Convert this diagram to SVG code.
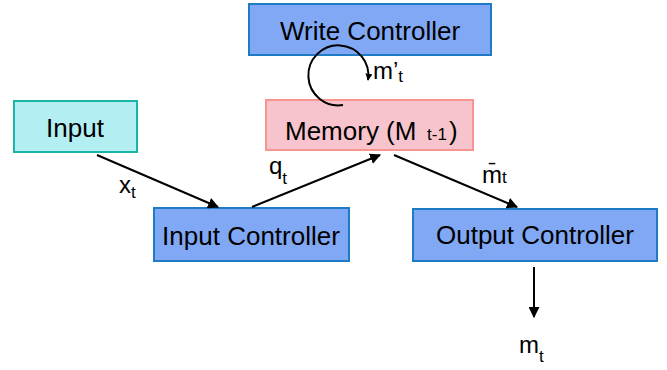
<svg xmlns="http://www.w3.org/2000/svg" width="667" height="370" viewBox="0 0 667 370">
  <defs>
    <marker id="arrow" viewBox="0 0 10 10" refX="9" refY="5" markerWidth="7" markerHeight="7" markerUnits="userSpaceOnUse" orient="auto">
      <path d="M0,0 L10,5 L0,10 z" fill="#000"/>
    </marker>
    <marker id="arrowLg" viewBox="0 0 10 10" refX="9" refY="5" markerWidth="11" markerHeight="11" markerUnits="userSpaceOnUse" orient="auto">
      <path d="M0,0 L10,5 L0,10 z" fill="#000"/>
    </marker>
  </defs>
  <style>
    text { font-family: "Liberation Sans", Arial, sans-serif; fill: #000; }
    .node { font-size: 26px; text-anchor: middle; }
    .lbl { font-size: 24px; }
    .sub { font-size: 17px; }
    .ctrl { fill: #80a8f5; stroke: #1f7cc4; stroke-width: 2; }
    .inp { fill: #b3eef2; stroke: #1cb5a5; stroke-width: 2; }
    .mem { fill: #f7c4cd; stroke: #f99590; stroke-width: 2; }
    .edge { fill: none; stroke: #000; stroke-width: 2; }
  </style>
  <rect width="667" height="370" fill="#fff"/>

  <g id="write-controller">
    <rect class="ctrl" x="249" y="4" width="242" height="51"/>
    <text class="node" x="370" y="40">Write Controller</text>
  </g>

  <g id="memory">
    <rect class="mem" x="266" y="100" width="207" height="50"/>
    <text x="285" y="140" font-size="26">Memory (M<tspan class="sub" x="427">t-1</tspan><tspan x="449">)</tspan></text>
  </g>

  <g id="input">
    <rect class="inp" x="14" y="101" width="123" height="51"/>
    <text class="node" x="75" y="137">Input</text>
  </g>

  <g id="input-controller">
    <rect class="ctrl" x="154" y="208" width="195" height="53"/>
    <text class="node" x="251" y="245">Input Controller</text>
  </g>

  <g id="output-controller">
    <rect class="ctrl" x="413" y="209" width="244" height="52"/>
    <text class="node" x="535" y="244">Output Controller</text>
  </g>

  <g id="connectors">
    <line class="edge" x1="97" y1="155" x2="218" y2="207" marker-end="url(#arrowLg)"/>
    <line class="edge" x1="252" y1="207" x2="380" y2="155" marker-end="url(#arrowLg)"/>
    <line class="edge" x1="394" y1="155" x2="517" y2="207" marker-end="url(#arrowLg)"/>
    <line class="edge" x1="534" y1="267" x2="534" y2="317" marker-end="url(#arrowLg)"/>
    <path class="edge" d="M 343 105 A 30 30 0 1 1 368 80" marker-end="url(#arrow)"/>
  </g>

  <g id="labels">
    <text class="lbl" x="119" y="193">x<tspan class="sub" dy="5">t</tspan></text>
    <text class="lbl" x="269" y="174">q<tspan class="sub" dy="10">t</tspan></text>
    <text class="lbl" x="482" y="183">m̄<tspan class="sub">t</tspan></text>
    <text class="lbl" x="373" y="79">m’<tspan class="sub" dy="3">t</tspan></text>
    <text class="lbl" x="519" y="353">m<tspan class="sub" dy="9">t</tspan></text>
  </g>
</svg>
